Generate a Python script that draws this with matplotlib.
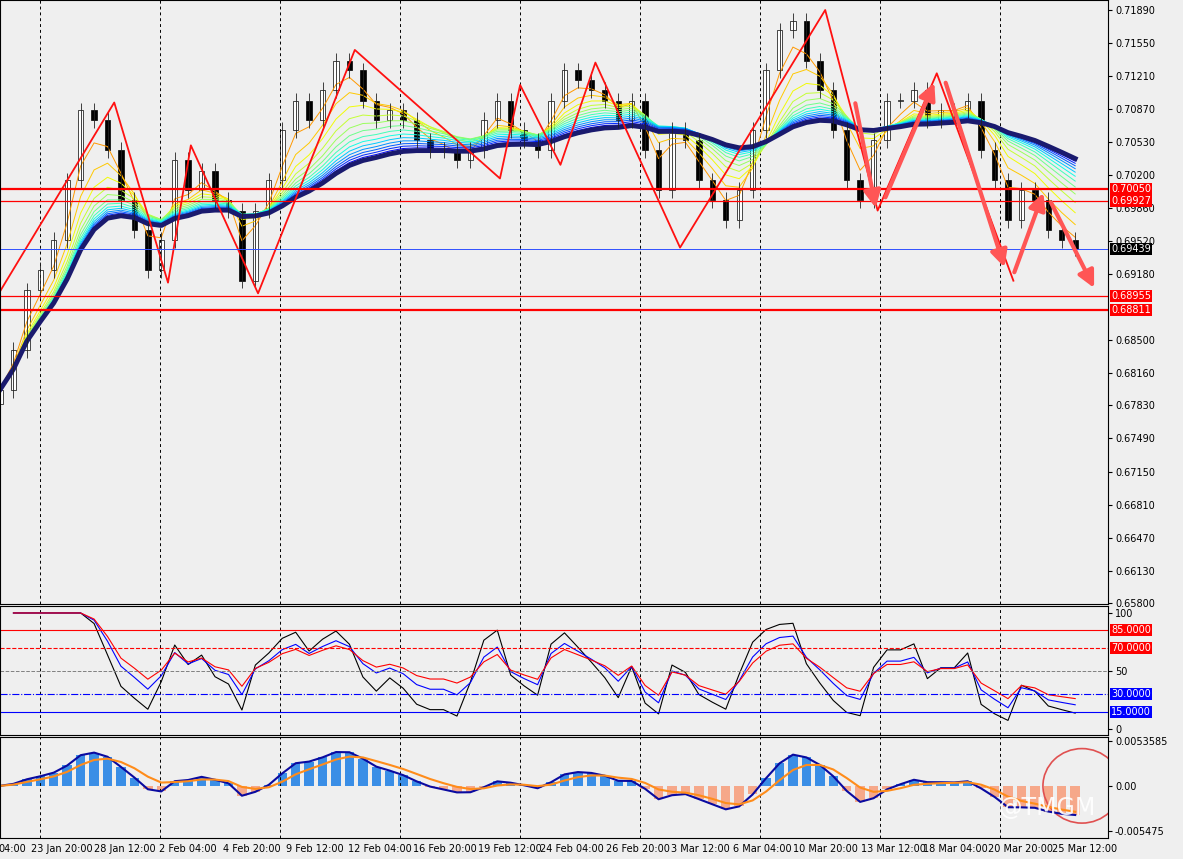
import matplotlib
matplotlib.use("Agg")
import matplotlib.pyplot as plt
import numpy as np
import pandas as pd

closes = [0.6799,0.6840,0.6901,0.6922,0.6953,0.7014,0.7086,0.7076,0.7045,0.6994,0.6963,0.6922,
          0.6953,0.7035,0.7004,0.7024,0.6994,0.6983,0.6911,0.6983,0.7014,0.7066,0.7096,0.7076,
          0.7107,0.7137,0.7127,0.7096,0.7076,0.7086,0.7076,0.7055,0.7045,0.7045,0.7035,0.7045,
          0.7076,0.7096,0.7066,0.7055,0.7045,0.7096,0.7127,0.7117,0.7107,0.7096,0.7076,0.7096,
          0.7045,0.7004,0.7066,0.7055,0.7014,0.6994,0.6973,0.7004,0.7066,0.7127,0.7168,0.7178,
          0.7137,0.7107,0.7066,0.7014,0.6994,0.7055,0.7096,0.7096,0.7107,0.7076,0.7086,0.7086,
          0.7096,0.7045,0.7014,0.6973,0.7004,0.6994,0.6963,0.6953,0.6944]
zz_idx = [0, 8.5, 12.5, 14.2, 19.2, 26.4, 37.2, 38.7, 41.7, 44.3, 50.6, 61.4, 65.3, 69.7, 75.4]
zz_px = [0.6900, 0.7094, 0.6909, 0.7050, 0.6898, 0.7148, 0.7016, 0.7112, 0.7030, 0.7135,
         0.6945, 0.7189, 0.6983, 0.7124, 0.6911]
arrows = [((63.6, 0.7096), (65.2, 0.6983)), ((65.8, 0.6994), (69.6, 0.7117)),
          ((70.3, 0.7117), (74.8, 0.6922)), ((75.4, 0.6917), (77.7, 0.7004)),
          ((78.1, 0.6994), (81.5, 0.6901)), ((81.5, 0.6901), (83.0, 0.6968))]
hlines = [(0.70050, 1.6, '#ff0000'), (0.69927, 0.9, '#ff0000'), (0.68955, 0.9, '#ff0000'),
          (0.68811, 1.6, '#ff0000'), (0.69439, 0.7, '#3050ff')]
price_ticks = [0.71890,0.71550,0.71210,0.70870,0.70530,0.70200,0.69860,0.69520,0.69180,0.68500,
               0.68160,0.67830,0.67490,0.67150,0.66810,0.66470,0.66130,0.65800]
date_labels = ["04:00","23 Jan 20:00","28 Jan 12:00","2 Feb 04:00","4 Feb 20:00","9 Feb 12:00",
               "12 Feb 04:00","16 Feb 20:00","19 Feb 12:00","24 Feb 04:00","26 Feb 20:00",
               "3 Mar 12:00","6 Mar 04:00","10 Mar 20:00","13 Mar 12:00","18 Mar 04:00",
               "20 Mar 20:00","25 Mar 12:00"]
date_px = [12,62,125,188,252,315,380,445,510,572,638,700,762,825,893,955,1020,1085]
vlines_px = [40,160,280,400,520,640,760,880,1000]

W, H = 1183, 859
bg = '#efefef'
fig = plt.figure(figsize=(W/100, H/100), dpi=100, facecolor=bg)
S = 13.44
pw = 1108
def mk(top, bot):
    return fig.add_axes([0, 1-bot/H, pw/W, (bot-top)/H], facecolor=bg)
ax = mk(0, 604); ar = mk(606, 735); am = mk(737, 838)
for a in (ax, ar, am):
    a.set_xlim(0, pw/S)
    a.yaxis.tick_right()
    a.tick_params(axis='y', labelsize=7, length=3, pad=2)
    a.set_xticks([])
    for s in a.spines.values(): s.set_color('black'); s.set_linewidth(0.8)
    for v in vlines_px:
        a.axvline(v/S, color='black', ls=(0, (3, 3)), lw=0.7)

c = pd.Series(closes)
n = len(closes)
x = np.arange(n)
o = np.r_[closes[0]-0.0015, closes[:-1]]
periods = list(range(3, 30, 2))
cmap = plt.get_cmap('jet_r')
for k, p in enumerate(periods):
    ax.plot(x, c.ewm(span=p).mean(), color=cmap(0.25+0.75*k/len(periods)), lw=0.7)
ax.plot(x, c.ewm(span=30).mean(), color='#1a1a6e', lw=3.5)
for i in range(n):
    lo, hi = min(o[i], closes[i]), max(o[i], closes[i])
    ax.vlines(i, lo-0.0008, hi+0.0008, color='#222', lw=0.6)
    ax.bar(i, max(hi-lo, 0.00005), bottom=lo, width=0.4,
           color='white' if closes[i] >= o[i] else 'black', edgecolor='black', lw=0.5)
ax.plot(zz_idx, zz_px, color='#ff1010', lw=1.3)
for (a0, a1) in arrows:
    ax.annotate('', xy=a1, xytext=a0,
                arrowprops=dict(arrowstyle='-|>,head_width=0.5,head_length=1.0', color='#ff5555', lw=3))
for yv, lw, col in hlines:
    ax.axhline(yv, color=col, lw=lw)
ax.set_ylim(0.71890-594*0.0609/593, 0.71890+10*0.0609/593)
ax.set_yticks(price_ticks)
ax.set_yticklabels([f"{t:.5f}" for t in price_ticks])
for yv, lw, col in hlines:
    ax.text(1.003, yv, f"{yv:.5f}", transform=ax.get_yaxis_transform(), fontsize=7,
            color='white', va='center', ha='left',
            bbox=dict(boxstyle='square,pad=0.1', fc='black' if col != '#ff0000' else '#ff0000', ec='none'))

def rsi(s, p):
    d = s.diff().fillna(0)
    up = d.clip(lower=0).ewm(alpha=1/p).mean()
    dn = (-d.clip(upper=0)).ewm(alpha=1/p).mean()
    return 100 - 100/(1+up/(dn+1e-9))
xs = x[1:]
ar.plot(xs, rsi(c, 3)[1:], color='black', lw=0.8)
ar.plot(xs, rsi(c, 5)[1:], color='blue', lw=0.8)
ar.plot(xs, rsi(c, 7)[1:], color='red', lw=0.8)
ar.axhline(85, color='red', lw=0.8); ar.axhline(70, color='red', lw=0.8, ls='--')
ar.axhline(50, color='gray', lw=0.7, ls='--')
ar.axhline(30, color='blue', lw=0.8, ls='-.'); ar.axhline(15, color='blue', lw=0.8)
ar.set_ylim(-5, 106)
ar.set_yticks([100, 50, 0])
for yv, col in [(85, 'red'), (70, 'red'), (30, 'blue'), (15, 'blue')]:
    ar.text(1.003, yv, f"{yv:.4f}", transform=ar.get_yaxis_transform(), fontsize=7, color='white',
            va='center', ha='left', bbox=dict(boxstyle='square,pad=0.1', fc=col, ec='none'))

macd = c.ewm(span=5).mean() - c.ewm(span=12).mean()
sig = macd.ewm(span=4).mean()
am.bar(x, macd, width=0.7, color=np.where(macd >= 0, '#3a8ee6', '#f6a88a'))
am.plot(x, macd, color='#0a0aa0', lw=1.5)
am.plot(x, sig, color='#ff8c1a', lw=1.5)
am.set_ylim(-0.0063, 0.0059)
am.set_yticks([0.0053585, 0.0, -0.005475])
am.set_yticklabels(['0.0053585', '0.00', '-0.005475'])
am.add_patch(matplotlib.patches.Ellipse((80.5, 0.0), 5.8, 0.009, fill=False, ec='#e05050', lw=1.2))
am.text(0.945, 0.3, '@TMGM', transform=am.transAxes, fontsize=17, color='white', alpha=0.9,
        ha='center', va='center')

for lbl, px in zip(date_labels, date_px):
    fig.text(px/W, 1-849/H, lbl, fontsize=7, ha='center', va='center')

fig.savefig('out.png', dpi=100, facecolor=bg)
